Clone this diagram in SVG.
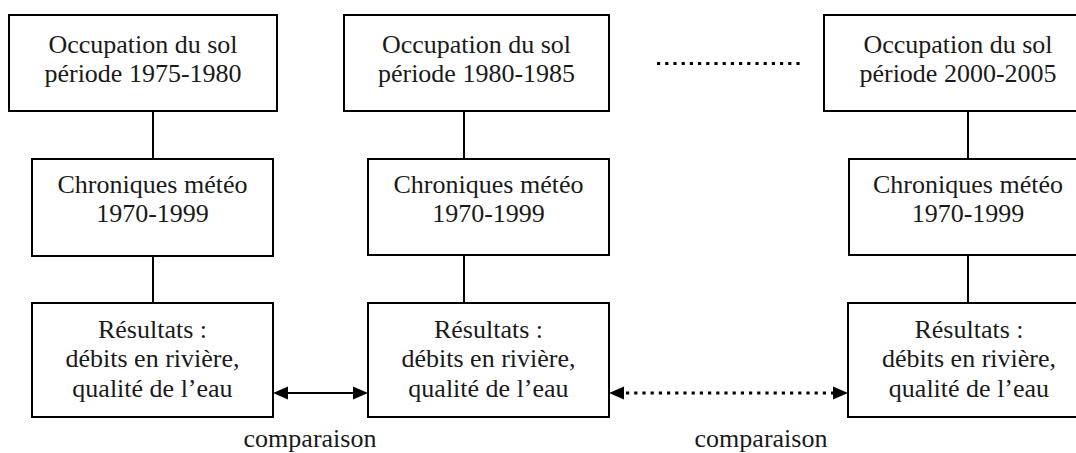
<svg xmlns="http://www.w3.org/2000/svg" width="1076" height="453" viewBox="0 0 1076 453">
  <style>
    .box { fill: #ffffff; stroke: #000000; stroke-width: 2; }
    .lbl { font-family: "Liberation Serif", "Times New Roman", serif; font-size: 26px; fill: #1a1a1a; text-anchor: middle; }
    .link { stroke: #000000; stroke-width: 2; fill: none; }
    .dots { stroke: #000000; stroke-width: 3.2; fill: none; stroke-dasharray: 3.2 5; }
    .head { fill: #000000; }
  </style>
  <rect width="1076" height="453" fill="#ffffff"/>

  <g id="connectors">
    <line class="link" x1="153" y1="111" x2="153" y2="159"/>
    <line class="link" x1="153" y1="256" x2="153" y2="303"/>
    <line class="link" x1="464" y1="111" x2="464" y2="159"/>
    <line class="link" x1="464" y1="255" x2="464" y2="303"/>
    <line class="link" x1="968" y1="111" x2="968" y2="159"/>
    <line class="link" x1="968" y1="255" x2="968" y2="303"/>
    <line class="link" x1="286" y1="393" x2="354" y2="393"/>
    <path class="head" d="M288,386.5 L273,393 L288,399.5 Z"/>
    <path class="head" d="M353,386.5 L368,393 L353,399.5 Z"/>
    <line class="dots" x1="626" y1="393" x2="834" y2="393"/>
    <path class="head" d="M624,386.5 L609,393 L624,399.5 Z"/>
    <path class="head" d="M833,386.5 L848,393 L833,399.5 Z"/>
    <line class="dots" x1="657" y1="63.5" x2="800" y2="63.5"/>
  </g>

  <g id="occ1">
    <rect class="box" x="9" y="15" width="268" height="96"/>
    <text class="lbl" x="143" y="53">Occupation du sol</text>
    <text class="lbl" x="143" y="82">période 1975-1980</text>
  </g>
  <g id="occ2">
    <rect class="box" x="344" y="15" width="265" height="96"/>
    <text class="lbl" x="476.5" y="53">Occupation du sol</text>
    <text class="lbl" x="476.5" y="82">période 1980-1985</text>
  </g>
  <g id="occ3">
    <rect class="box" x="824" y="15" width="268" height="96"/>
    <text class="lbl" x="958" y="53">Occupation du sol</text>
    <text class="lbl" x="958" y="82">période 2000-2005</text>
  </g>

  <g id="meteo1">
    <rect class="box" x="32" y="159" width="241" height="97"/>
    <text class="lbl" x="152.5" y="193">Chroniques météo</text>
    <text class="lbl" x="152.5" y="222">1970-1999</text>
  </g>
  <g id="meteo2">
    <rect class="box" x="368" y="159" width="241" height="96"/>
    <text class="lbl" x="488.5" y="193">Chroniques météo</text>
    <text class="lbl" x="488.5" y="222">1970-1999</text>
  </g>
  <g id="meteo3">
    <rect class="box" x="849" y="159" width="240" height="96"/>
    <text class="lbl" x="968" y="193">Chroniques météo</text>
    <text class="lbl" x="968" y="222">1970-1999</text>
  </g>

  <g id="res1">
    <rect class="box" x="32" y="303" width="241" height="114"/>
    <text class="lbl" x="152.5" y="338">Résultats :</text>
    <text class="lbl" x="152.5" y="367">débits en rivière,</text>
    <text class="lbl" x="152.5" y="397">qualité de l’eau</text>
  </g>
  <g id="res2">
    <rect class="box" x="368" y="303" width="241" height="114"/>
    <text class="lbl" x="488.5" y="338">Résultats :</text>
    <text class="lbl" x="488.5" y="367">débits en rivière,</text>
    <text class="lbl" x="488.5" y="397">qualité de l’eau</text>
  </g>
  <g id="res3">
    <rect class="box" x="848" y="303" width="241" height="114"/>
    <text class="lbl" x="969" y="338">Résultats :</text>
    <text class="lbl" x="969" y="367">débits en rivière,</text>
    <text class="lbl" x="969" y="397">qualité de l’eau</text>
  </g>

  <g id="labels">
    <text class="lbl" x="310" y="447">comparaison</text>
    <text class="lbl" x="761" y="447">comparaison</text>
  </g>
</svg>
